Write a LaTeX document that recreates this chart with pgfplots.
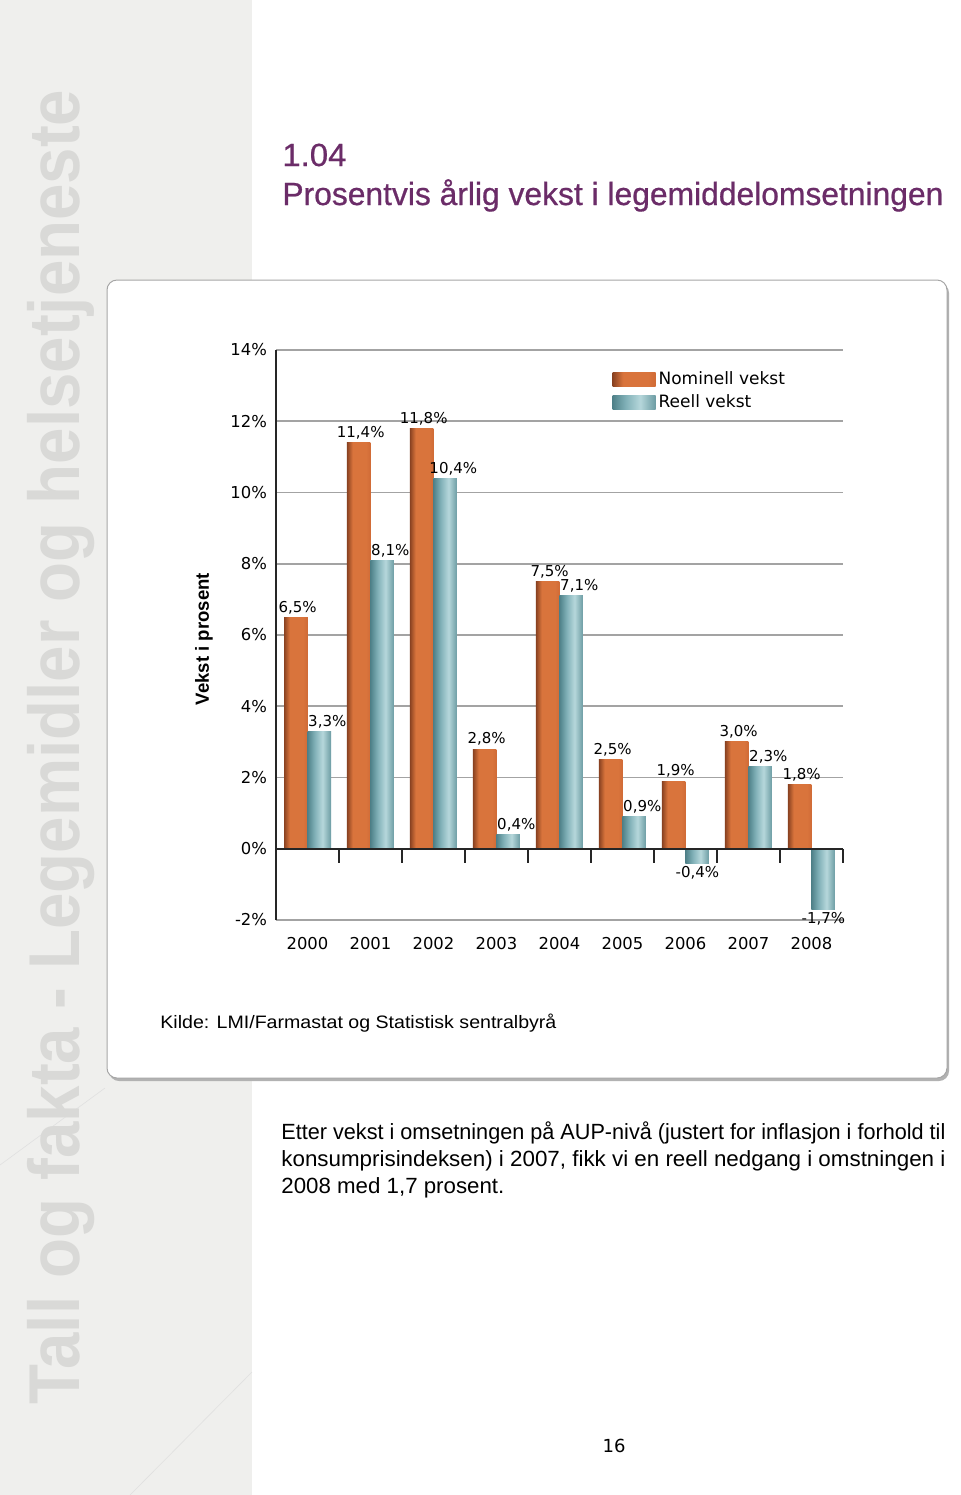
\documentclass[border=0pt]{standalone}
\usepackage{fontspec}
\setmainfont{Liberation Sans}
\newfontfamily\cond[FakeStretch=0.82]{Liberation Sans}
\newfontfamily\condtitle[FakeStretch=0.82,FakeBold=0.6]{Liberation Sans}
\newfontfamily\dv{DejaVu Sans}
\usepackage{graphicx}
\usepackage{pgfplots}
\usepackage{pgfplotstable}
\pgfplotsset{compat=1.18}

\definecolor{band}{HTML}{EFEFED}
\definecolor{sidetext}{HTML}{D9D9D7}
\definecolor{titlepurple}{HTML}{6B2C68}
\definecolor{gridgray}{HTML}{A3A3A3}
\definecolor{o1}{HTML}{8A4221}
\definecolor{o2}{HTML}{D9743C}
\definecolor{o3}{HTML}{D06B36}
\definecolor{b1}{HTML}{4F8189}
\definecolor{b2}{HTML}{80B0B7}
\definecolor{b3}{HTML}{B6D7DB}
\definecolor{b4}{HTML}{6C9CA3}

\pgfdeclarehorizontalshading{orangebar}{100bp}{color(0bp)=(o1); color(25bp)=(o1); color(37bp)=(o2); color(66bp)=(o2); color(75bp)=(o3); color(100bp)=(o3)}
\pgfdeclarehorizontalshading{bluebar}{100bp}{color(0bp)=(b1); color(25bp)=(b1); color(40bp)=(b2); color(57bp)=(b3); color(75bp)=(b4); color(100bp)=(b4)}

\pgfplotstableread{
x y
0 6.5
1 11.4
2 11.8
3 2.8
4 7.5
5 2.5
6 1.9
7 3.0
8 1.8
}\nominell
\pgfplotstableread{
x y
0 3.3
1 8.1
2 10.4
3 0.4
4 7.1
5 0.9
6 -0.4
7 2.3
8 -1.7
}\reell

\pgfplotsset{
  barlabels/.style={
    nodes near coords={\pgfmathprintnumber[fixed,fixed zerofill,precision=1,use comma]{\pgfplotspointmeta}\%},
    nodes near coords align=vertical,
    every node near coord/.append style={font=\dv\fontsize{7.5}{8}\selectfont, inner sep=1.5pt, text=black},
  },
}

\begin{document}
\begin{tikzpicture}
\path[use as bounding box] (0pt,0pt) rectangle (480pt,-747.5pt);
\begin{scope}[x=0.5pt,y=-0.5pt]
  \fill[white] (0,0) rectangle (960,1495);
  \fill[band] (0,0) rectangle (252,1495);
  \draw[white!88!black, line width=0.3pt] (0,1165) -- (105,1088);
  \draw[white!88!black, line width=0.3pt] (130,1495) -- (252,1372);
  \node[rotate=90, anchor=base west, inner sep=0pt, text=sidetext]
    at (79,1405) {\resizebox{657.5pt}{\height}{\fontsize{36}{40}\selectfont\bfseries Tall og fakta - Legemidler og helsetjeneste}};
  % title
  \node[anchor=base west, inner sep=0pt, text=titlepurple] at (282,166)
    {\resizebox{32pt}{\height}{\condtitle\fontsize{16}{18}\selectfont 1.04}};
  \node[anchor=base west, inner sep=0pt, text=titlepurple] at (282,205)
    {\resizebox{330.5pt}{\height}{\condtitle\fontsize{16}{18}\selectfont Prosentvis årlig vekst i legemiddelomsetningen}};
  % card
  \fill[black!30, rounded corners=5pt] (109,283) rectangle (949,1081);
  \fill[white, draw=gray!70, line width=0.5pt, rounded corners=5pt] (107,280) rectangle (947,1078);
  % y label
  \node[rotate=90, inner sep=0pt] at (204,639)
    {\resizebox{66pt}{\height}{\cond\fontsize{9.5}{11}\selectfont\bfseries Vekst i prosent}};
  % source
  \node[anchor=base west, inner sep=0pt] at (160,1028)
    {\resizebox{198pt}{\height}{\cond\fontsize{9}{11}\selectfont Kilde: LMI/Farmastat og Statistisk sentralbyrå}};
  % paragraph
  \node[anchor=base west, inner sep=0pt] at (281,1139)
    {\resizebox{332pt}{\height}{\cond\fontsize{11}{13}\selectfont Etter vekst i omsetningen på AUP-nivå (justert for inflasjon i forhold til}};
  \node[anchor=base west, inner sep=0pt] at (281,1166)
    {\resizebox{332pt}{\height}{\cond\fontsize{11}{13}\selectfont konsumprisindeksen) i 2007, fikk vi en reell nedgang i omstningen i}};
  \node[anchor=base west, inner sep=0pt] at (281,1193)
    {\resizebox{111.5pt}{\height}{\cond\fontsize{11}{13}\selectfont 2008 med 1,7 prosent.}};
  \node[anchor=base, inner sep=0pt] at (614,1452) {\dv\fontsize{9}{10}\selectfont 16};
\end{scope}

\begin{axis}[
  at={(138pt,-460pt)}, anchor=south west,
  scale only axis, width=283.5pt, height=285pt,
  xmin=-0.5, xmax=8.5, ymin=-2, ymax=14,
  axis x line*=bottom, axis y line*=left,
  x axis line style={draw=gridgray, line width=0.9pt},
  y axis line style={draw=black!85, line width=0.8pt},
  xtick={0,1,2,3,4,5,6,7,8},
  xticklabels={2000,2001,2002,2003,2004,2005,2006,2007,2008},
  major tick length=0pt,
  ytick={-2,0,2,4,6,8,10,12,14},
  yticklabel={\pgfmathprintnumber{\tick}\%},
  ymajorgrids, grid style={gridgray, line width=0.9pt},
  tick label style={font=\dv\fontsize{8.2}{9}\selectfont},
  /pgf/number format/assume math mode=true,
  yticklabel style={xshift=-1pt},
  xticklabel style={yshift=-5pt},
  legend style={at={(0.593,0.968)}, anchor=north west, draw=none, fill=none,
    font=\dv\fontsize{8.5}{10}\selectfont, row sep=0.5pt, inner sep=0pt,
    nodes={inner sep=1.5pt}},
  legend cell align=left,
  clip=false,
]
\pgfplotsinvokeforeach{0,1,2,3,4,5,6,7,8}{
  \addplot[ybar, bar width=11.75pt, bar shift=-5.875pt, draw=none, fill=o2,
    shade, shading=orangebar, forget plot, barlabels,
    every node near coord/.append style={xshift=-4.9pt},
    restrict expr to domain={\coordindex}{#1:#1}]
    table[x=x,y=y] {\nominell};
  \addplot[ybar, bar width=11.75pt, bar shift=5.875pt, draw=none, fill=b2,
    shade, shading=bluebar, forget plot, barlabels,
    visualization depends on={y \as \rawy},
    every node near coord/.append style={xshift={ifthenelse(\rawy<0,6,9.9)*1pt}},
    restrict expr to domain={\coordindex}{#1:#1}]
    table[x=x,y=y] {\reell};
}
\addlegendimage{legend image code/.code={\path[draw=none, shade, shading=orangebar] (0pt,-3.6pt) rectangle (21.5pt,3.6pt);}}
\addlegendentry{Nominell vekst}
\addlegendimage{legend image code/.code={\path[draw=none, shade, shading=bluebar] (0pt,-3.6pt) rectangle (21.5pt,3.6pt);}}
\addlegendentry{Reell vekst}
\draw[black!85, line width=0.8pt] (axis cs:-0.5,0) -- (axis cs:8.5,0);
\pgfplotsinvokeforeach{0.5,1.5,2.5,3.5,4.5,5.5,6.5,7.5,8.5}{
  \draw[black!85, line width=0.8pt] (axis cs:#1,0) -- (axis cs:#1,-0.4);
}
\end{axis}
\end{tikzpicture}
\end{document}
